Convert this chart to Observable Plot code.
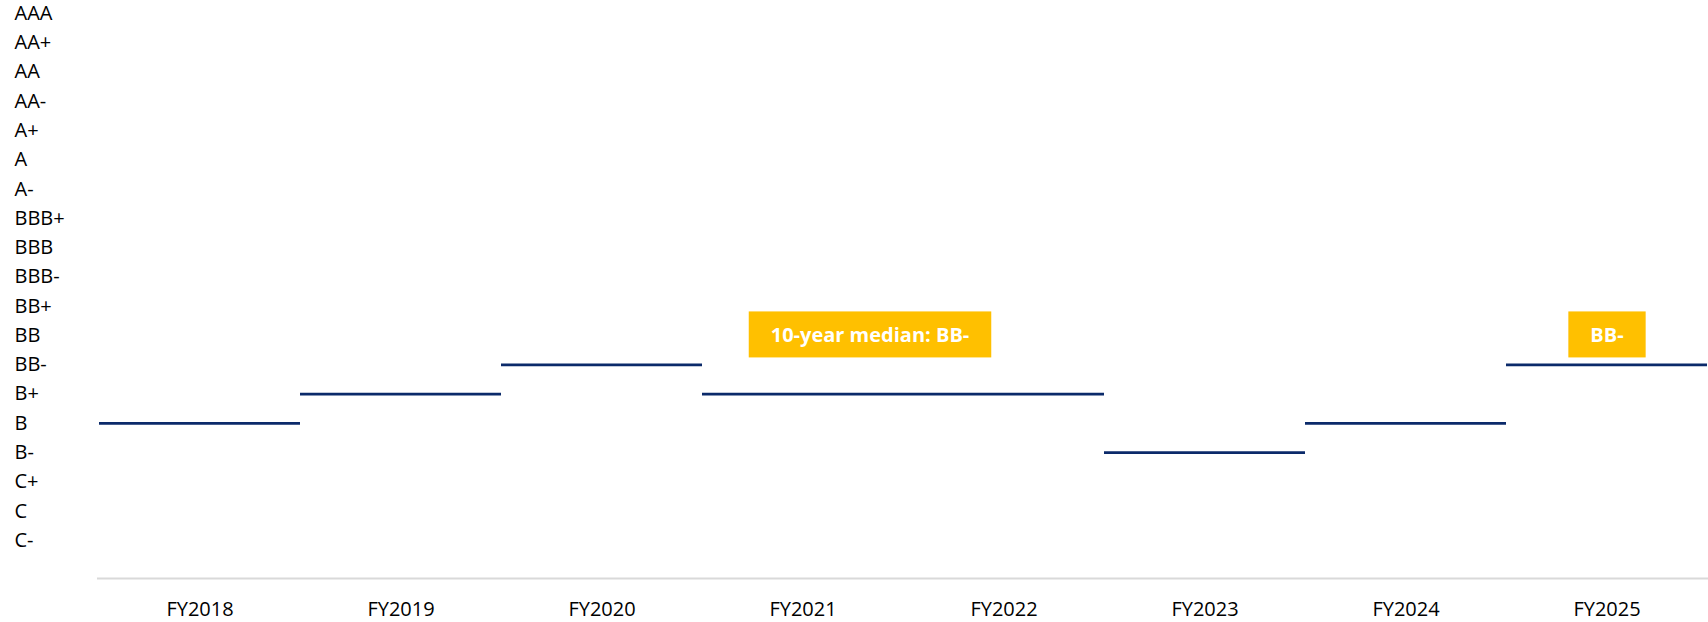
<!DOCTYPE html>
<html>
<head>
<meta charset="utf-8">
<script src="https://cdn.jsdelivr.net/npm/d3@7"></script>
<script src="https://cdn.jsdelivr.net/npm/@observablehq/plot@0.6"></script>
<style>
  html, body { margin: 0; padding: 0; background: #fff; }
  svg { display: block; }
</style>
</head>
<body>
<script>
// Fiscal years on the x axis
const years = ["FY2018", "FY2019", "FY2020", "FY2021", "FY2022", "FY2023", "FY2024", "FY2025"];

// Rating ladder, lowest to highest (y axis tick labels)
const ratingScale = ["C-", "C", "C+", "B-", "B", "B+", "BB-", "BB", "BB+",
  "BBB-", "BBB", "BBB+", "A-", "A", "A+", "AA-", "AA", "AA+", "AAA"];

// Rating assigned in each fiscal year
const ratings = ["B", "B+", "BB-", "B+", "B+", "B-", "B", "BB-"];

// Callout labels
const noteTexts = ["10-year median: BB-", "BB-"];
const noteYears = ["FY2021", "FY2025"];
const noteLevels = ["BB", "BB"];

const rank = r => ratingScale.indexOf(r);
const yFloor = -1.3;

const data = years.map((year, i) => ({year, rating: ratings[i]}));
const notes = noteTexts.map((text, i) => ({text, year: noteYears[i], level: noteLevels[i]}));

const chart = Plot.plot({
  width: 1708,
  height: 622,
  marginLeft: 97,
  marginRight: 0,
  marginTop: 13,
  marginBottom: 44,
  style: {fontFamily: '"Open Sans", sans-serif', fontSize: "20px", background: "#fff", color: "#000"},
  x: {type: "band", domain: years, padding: 0, axis: null},
  y: {domain: [yFloor, ratingScale.length - 1], axis: null},
  marks: [
    Plot.axisX({tickSize: 0, tickPadding: 23, fontSize: 20, label: null}),
    Plot.axisY({
      ticks: d3.range(ratingScale.length),
      tickFormat: i => ratingScale[i],
      tickSize: 0,
      tickPadding: 83,
      textAnchor: "start",
      fontSize: 20,
      label: null
    }),
    Plot.ruleY([yFloor], {stroke: "#d9d9d9", strokeWidth: 2}),
    Plot.tickY(data, {x: "year", y: d => rank(d.rating), stroke: "#0b2a6a", strokeWidth: 2.8}),
    Plot.text(notes.slice(0, 1), {
      x: "year", y: d => rank(d.level), text: "text",
      fill: "#fff", fontWeight: "bold", fontSize: 20, dx: 67
    }),
    Plot.text(notes.slice(1), {
      x: "year", y: d => rank(d.level), text: "text",
      fill: "#fff", fontWeight: "bold", fontSize: 20
    })
  ]
});

document.body.append(chart);

// Gold backgrounds behind the callout labels
const svgNS = "http://www.w3.org/2000/svg";
for (const t of chart.querySelectorAll('g[aria-label="text"] text')) {
  const b = t.getBBox();
  const cy = b.y + b.height / 2;
  const r = document.createElementNS(svgNS, "rect");
  r.setAttribute("x", b.x - 22);
  r.setAttribute("y", cy - 23);
  r.setAttribute("width", b.width + 44);
  r.setAttribute("height", 46);
  r.setAttribute("fill", "#FFC000");
  if (t.getAttribute("transform")) r.setAttribute("transform", t.getAttribute("transform"));
  t.parentNode.insertBefore(r, t);
}
</script>
</body>
</html>
